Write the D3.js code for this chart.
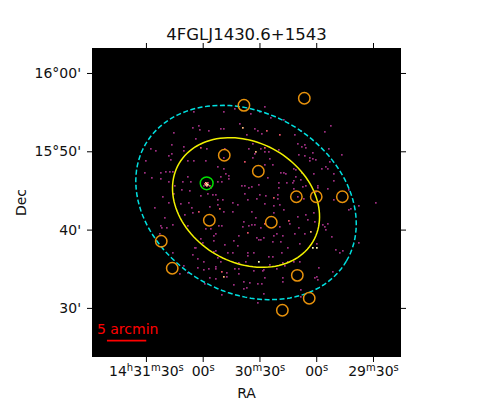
<!DOCTYPE html>
<html><head><meta charset="utf-8">
<style>html,body{margin:0;padding:0;background:#fff}svg{display:block}text{font-family:"DejaVu Sans",sans-serif;fill:#111}</style>
<script src="https://cdn.jsdelivr.net/npm/d3@7"></script></head><body><svg id="c" width="480" height="400"></svg>
<script>
const chartTitle = "4FGLJ1430.6+1543";
// RA in seconds after 14h29m, Dec in arcminutes after 15°00'
const raTicks = [150,120,90,60,30];
const raTickLabels = [[["14",0],["h",1],["31",0],["m",1],["30",0],["s",1]],[["00",0],["s",1]],[["30",0],["m",1],["30",0],["s",1]],[["00",0],["s",1]],[["29",0],["m",1],["30",0],["s",1]]];
const decTicks = [60,50,40,30];
const decTickLabels = ["16°00'","15°50'","40'","30'"];
const raDomain = [178.5,15.2];
const decDomain = [63.19,23.73];
const catalogRa = [98.2,66.3,108.6,90.6,70.5,60,46.2,116.5,83.75,141.9,136.1,70,63.7,77.9];
const catalogDec = [55.87,56.77,49.49,47.45,44.2,44.2,44.2,41.19,40.93,38.51,35.06,34.16,31.23,29.7];
const targetRa = [117.9];
const targetDec = [45.91];
// error ellipses: centre, semi-axes (arcmin), tilt (deg)
const ellipseCentre = [97.1,43.46];
const ellipse68 = [9.87,7.65,30.4];
const ellipse95 = [14.8,11.47,30.4];
const arcminPerRaSecond = 0.2407;
const scaleBarStart = [170.6,25.81];
const scaleBarArcmin = 5;
const scaleBarLabel = "5 arcmin";
const scaleBarLabelAt = [175.9,26.67];
// counts map: image column, image row, counts
const photons = [[101,63,1],[131,63,1],[142,60,1],[147,75,1],[150,79,3],[154,86,1],[106,77,1],[100,79,1],[107,81,1],[81,84,1],[116,82,1],[128,80,1],[131,80,1],[103,90,1],[79,96,1],[91,98,1],[91,102,1],[58,100,1],[63,102,1],[79,105,1],[76,107,1],[78,111,1],[53,112,1],[95,112,1],[101,112,1],[113,112,1],[108,99,2],[114,100,1],[132,100,1],[131,109,1],[156,100,1],[152,113,2],[125,118,1],[131,120,1],[52,124,1],[73,123,1],[68,124,1],[77,123,1],[80,123,1],[59,129,1],[68,130,1],[76,133,1],[95,128,1],[90,133,1],[97,142,1],[82,137,1],[98,133,1],[133,125,1],[128,128,1],[136,127,1],[136,130,1],[129,133,1],[125,133,1],[70,148,1],[81,145,1],[89,141,1],[118,139,1],[108,147,1],[115,145,1],[120,146,1],[123,146,1],[130,151,1],[125,151,1],[149,137,1],[152,137,1],[156,139,1],[152,145,1],[155,151,1],[113,134,3],[115,136,4],[112,135,2],[117,137,2],[111,137,1],[114,135,4],[113,136,3],[115,134,2],[114,137,3],
[172,58,1],[167,63,1],[158,65,1],[178,69,1],[191,71,1],[238,77,1],[232,83,1],[162,80,1],[165,82,1],[169,85,1],[174,82,2],[187,86,2],[202,86,1],[208,82,1],[205,95,1],[209,98,1],[212,96,1],[213,99,1],[220,104,1],[236,100,1],[249,106,1],[160,95,1],[168,100,1],[172,99,2],[172,103,1],[176,103,1],[186,101,1],[163,103,3],[162,105,1],[160,109,1],[177,110,1],[206,106,1],[212,107,1],[217,109,1],[217,112,1],[220,110,1],[223,111,1],[237,113,1],[233,118,1],[229,120,1],[235,120,1],[241,125,1],[172,116,1],[180,116,1],[201,120,1],[203,121,1],[209,124,1],[221,125,1],[188,124,1],[191,124,1],[193,125,1],[203,128,1],[201,132,1],[200,134,1],[186,134,1],[194,134,1],[208,131,1],[175,129,1],[166,136,1],[159,138,1],[186,139,1],[201,140,1],[210,138,1],[213,137,1],[225,137,1],[225,139,1],[235,140,1],[241,132,1],[167,146,1],[173,147,1],[164,150,1],[181,149,2],[185,146,1],[185,150,1],[211,150,1],[223,143,1],[205,148,1],[256,141,1],[241,151,1],
[76,154,1],[62,159,1],[88,155,1],[96,154,1],[99,159,1],[92,166,1],[100,164,1],[106,163,2],[117,158,1],[125,156,1],[127,160,2],[131,163,1],[140,154,1],[145,156,1],[140,163,1],[72,169,1],[68,177,1],[69,179,1],[74,179,1],[80,176,1],[67,185,1],[95,177,1],[113,180,1],[118,180,1],[126,177,1],[123,185,1],[121,187,1],[121,192,1],[129,177,1],[151,173,1],[150,178,1],[156,177,1],[155,184,2],[146,187,1],[141,192,1],[132,196,1],[145,197,1],[108,190,1],[110,194,1],[102,199,1],[103,199,1],[123,202,1],[121,203,1],[135,204,1],[140,204,1],[100,206,1],[111,213,1],[105,210,1],[125,209,1],[155,204,1],[80,204,1],[91,217,1],[105,219,1],[95,224,1],[87,225,1],[116,220,1],[111,221,1],[123,218,1],[123,220,1],[128,213,1],[146,214,1],[153,213,1],[129,223,2],[131,228,3],[134,224,1],[142,220,1],[146,220,1],[146,225,1],[134,228,1],[117,229,1],[123,230,1],[112,235,1],[141,236,1],[151,233,1],[154,239,1],[151,240,1],[157,234,1],[129,246,1],[155,207,1],
[172,155,1],[181,157,1],[187,156,1],[191,161,1],[181,164,1],[159,163,1],[163,169,1],[172,175,2],[168,179,1],[159,176,1],[162,176,1],[187,178,1],[196,172,2],[197,175,1],[205,168,1],[213,166,1],[221,164,1],[215,171,1],[222,173,1],[202,185,1],[206,179,1],[212,185,1],[218,183,3],[230,176,1],[232,178,1],[235,175,1],[233,181,1],[239,188,1],[207,195,1],[224,195,1],[220,199,4],[224,199,4],[243,201,1],[247,204,1],[250,202,1],[266,194,1],[266,157,1],[258,160,1],[256,161,1],[283,154,1],[184,185,1],[181,187,1],[190,187,1],[171,189,1],[168,191,1],[164,189,1],[166,191,1],[180,193,1],[188,193,1],[195,199,1],[161,204,1],[176,208,1],[180,208,1],[189,204,1],[166,213,4],[177,216,1],[190,214,1],[195,213,1],[201,213,1],[207,213,1],[226,219,1],[192,217,1],[171,221,1],[170,222,1],[184,220,1],[161,222,1],[240,223,1],[224,228,1],[222,229,1],[225,231,1],[190,229,1],[190,233,1],[172,229,1],[165,235,1],[169,235,1],[208,241,1],[171,245,1],[208,248,1],[165,254,1]];

const svg = d3.select("#c");
const L=92,R=401,T=48,B=357;
const x = d3.scaleLinear().domain(raDomain).range([L,R]);
const y = d3.scaleLinear().domain(decDomain).range([T,B]);
const col = d3.scaleLinear().domain([0,309]).range([L,R]);
const row = d3.scaleLinear().domain([0,309]).range([T,B]);
const countColor = d3.scaleOrdinal().domain([1,2,3,4]).range([.44,.62,.85,1].map(d3.interpolateMagma));

svg.append("rect").attr("x",L).attr("y",T).attr("width",R-L).attr("height",B-T).attr("fill","#000");

svg.append("g").selectAll("rect").data(photons).join("rect")
  .attr("x",d=>col(d[0])).attr("y",d=>row(d[1])).attr("width",1.7).attr("height",1.7)
  .attr("fill",d=>countColor(d[2]));

function ellipsePath(e){
  const pts = d3.range(0,361,3).map(a=>{
    const t=a*Math.PI/180, th=e[2]*Math.PI/180;
    const u=e[0]*Math.cos(t), v=e[1]*Math.sin(t);
    const dE=u*Math.cos(th)-v*Math.sin(th);   // arcmin toward image right
    const dS=u*Math.sin(th)+v*Math.cos(th);   // arcmin toward image bottom
    return [ellipseCentre[0]-dE/arcminPerRaSecond, ellipseCentre[1]-dS];
  });
  return d3.line().x(d=>x(d[0])).y(d=>y(d[1]))(pts);
}
svg.append("path").attr("d",ellipsePath(ellipse68)).attr("fill","none").attr("stroke","#f2f200").attr("stroke-width",1.5);
svg.append("path").attr("d",ellipsePath(ellipse95)).attr("fill","none").attr("stroke","#00e0e0").attr("stroke-width",1.5).attr("stroke-dasharray","5,2.5");

svg.append("g").selectAll("circle").data(d3.range(catalogRa.length)).join("circle")
  .attr("cx",i=>x(catalogRa[i])).attr("cy",i=>y(catalogDec[i])).attr("r",5.7)
  .attr("fill","none").attr("stroke","#e8920c").attr("stroke-width",1.5);
svg.append("g").selectAll("circle").data(targetRa).join("circle")
  .attr("cx",d=>x(d)).attr("cy",y(targetDec[0])).attr("r",6.4)
  .attr("fill","none").attr("stroke","#00e000").attr("stroke-width",1.5);

svg.append("line").attr("x1",x(scaleBarStart[0])).attr("x2",x(scaleBarStart[0]-scaleBarArcmin/arcminPerRaSecond))
  .attr("y1",y(scaleBarStart[1])).attr("y2",y(scaleBarStart[1])).attr("stroke","#f00").attr("stroke-width",1.8);
svg.append("text").attr("x",x(scaleBarLabelAt[0])).attr("y",y(scaleBarLabelAt[1])).text(scaleBarLabel)
  .style("fill","#f00").style("font-size","14px");

function styleAxis(g){ g.select(".domain").remove(); g.selectAll("line").attr("stroke","#000").attr("stroke-width",1); g.selectAll("text").style("font-size","14px"); }
svg.append("g").attr("transform",`translate(0,${B})`).call(d3.axisBottom(x).tickValues(raTicks).tickSize(5).tickPadding(4).tickFormat("")).call(styleAxis)
  .selectAll("g.tick text").each(function(d,i){
    const t=d3.select(this).attr("y",19).attr("dy",null).text(null);
    let sup=0;
    raTickLabels[i].forEach(p=>{
      const s=t.append("tspan").text(p[0]).style("font-size",p[1]?"10px":"14px");
      const target=p[1]?-5:0;
      s.attr("dy",target-sup); sup=target;
    });
  });
svg.append("g").attr("transform",`translate(0,${T})`).call(d3.axisTop(x).tickValues(raTicks).tickSize(5).tickFormat("")).call(styleAxis);
svg.append("g").attr("transform",`translate(${L},0)`).call(d3.axisLeft(y).tickValues(decTicks).tickSize(5).tickPadding(6).tickFormat((d,i)=>decTickLabels[i])).call(styleAxis);
svg.append("g").attr("transform",`translate(${R},0)`).call(d3.axisRight(y).tickValues(decTicks).tickSize(5).tickFormat("")).call(styleAxis);

svg.append("text").attr("x",(L+R)/2).attr("y",40).attr("text-anchor","middle").style("font-size","16.5px").text(chartTitle);
svg.append("text").attr("x",(L+R)/2).attr("y",398).attr("text-anchor","middle").style("font-size","14px").text("RA");
svg.append("text").attr("transform",`translate(26,${(T+B)/2}) rotate(-90)`).attr("text-anchor","middle").style("font-size","14px").text("Dec");
</script></body></html>
